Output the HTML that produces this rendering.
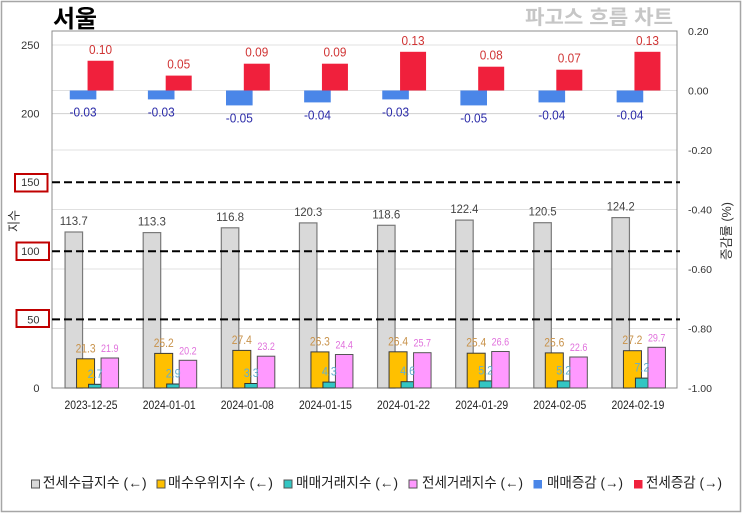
<!DOCTYPE html>
<html><head><meta charset="utf-8"><style>
html,body{margin:0;padding:0;background:#fff;}
svg{display:block;}
text{font-family:"Liberation Sans","Noto Sans CJK KR",sans-serif;}
.k{font-family:"Liberation Sans","Noto Sans CJK KR",sans-serif;}
</style></head><body>
<svg width="743" height="514" viewBox="0 0 743 514" xmlns="http://www.w3.org/2000/svg">
<rect x="0" y="0" width="743" height="514" fill="#fff"/>
<rect x="1.5" y="1.5" width="739" height="510" fill="none" stroke="#a6a6a6" stroke-width="1.5"/>

<!-- titles -->
<text x="53" y="27" font-size="24" font-weight="bold" fill="#000" textLength="44" lengthAdjust="spacingAndGlyphs">서울</text>
<text x="525" y="24" font-size="20" font-weight="bold" fill="#c6c6c6" textLength="148" lengthAdjust="spacingAndGlyphs">파고스 흐름 차트</text>

<!-- gridlines -->
<g stroke="#e0e0e0" stroke-width="1">
<line x1="52" y1="45" x2="677" y2="45"/>
<line x1="52" y1="90.5" x2="677" y2="90.5"/>
<line x1="52" y1="113.6" x2="677" y2="113.6" stroke="#d0d0d0"/>
<line x1="52" y1="150" x2="677" y2="150"/>
<line x1="52" y1="209.5" x2="677" y2="209.5"/>
<line x1="52" y1="269" x2="677" y2="269"/>
<line x1="52" y1="328.5" x2="677" y2="328.5"/>
</g>

<!-- plot frame -->
<rect x="52" y="31" width="625" height="357" fill="none" stroke="#8c8c8c" stroke-width="1"/>

<!-- gray bars -->
<g fill="#d9d9d9" stroke="#7a7a7a" stroke-width="1.2">
<rect x="65.06" y="232.0" width="17.5" height="156.0"/>
<rect x="143.19" y="232.6" width="17.5" height="155.4"/>
<rect x="221.31" y="227.8" width="17.5" height="160.2"/>
<rect x="299.44" y="222.9" width="17.5" height="165.1"/>
<rect x="377.56" y="225.3" width="17.5" height="162.7"/>
<rect x="455.69" y="220.1" width="17.5" height="167.9"/>
<rect x="533.81" y="222.7" width="17.5" height="165.3"/>
<rect x="611.94" y="217.6" width="17.5" height="170.4"/>
</g>
<!-- yellow bars -->
<g fill="#ffc000" stroke="#3a3a3a" stroke-width="1">
<rect x="76.56" y="358.8" width="18" height="29.2"/>
<rect x="154.69" y="353.4" width="18" height="34.6"/>
<rect x="232.81" y="350.4" width="18" height="37.6"/>
<rect x="310.94" y="351.9" width="18" height="36.1"/>
<rect x="389.06" y="351.8" width="18" height="36.2"/>
<rect x="467.19" y="353.2" width="18" height="34.8"/>
<rect x="545.31" y="352.9" width="18" height="35.1"/>
<rect x="623.44" y="350.7" width="18" height="37.3"/>
</g>
<!-- teal bars -->
<g fill="#33c6c3" stroke="#333" stroke-width="1">
<rect x="88.56" y="384.3" width="18" height="3.7"/>
<rect x="166.69" y="384.0" width="18" height="4.0"/>
<rect x="244.81" y="383.5" width="18" height="4.5"/>
<rect x="322.94" y="382.1" width="18" height="5.9"/>
<rect x="401.06" y="381.7" width="18" height="6.3"/>
<rect x="479.19" y="380.9" width="18" height="7.1"/>
<rect x="557.31" y="380.9" width="18" height="7.1"/>
<rect x="635.44" y="378.1" width="18" height="9.9"/>
</g>
<!-- pink bars -->
<g fill="#ff99ff" stroke="#555" stroke-width="1">
<rect x="101.06" y="358.0" width="17.5" height="30.0"/>
<rect x="179.19" y="360.3" width="17.5" height="27.7"/>
<rect x="257.31" y="356.2" width="17.5" height="31.8"/>
<rect x="335.44" y="354.5" width="17.5" height="33.5"/>
<rect x="413.56" y="352.7" width="17.5" height="35.3"/>
<rect x="491.69" y="351.5" width="17.5" height="36.5"/>
<rect x="569.81" y="357.0" width="17.5" height="31.0"/>
<rect x="647.94" y="347.3" width="17.5" height="40.7"/>
</g>

<!-- blue bars -->
<g fill="#4a86e8">
<rect x="69.76" y="90.5" width="26.6" height="8.9"/>
<rect x="147.89" y="90.5" width="26.6" height="8.9"/>
<rect x="226.01" y="90.5" width="26.6" height="14.9"/>
<rect x="304.14" y="90.5" width="26.6" height="11.9"/>
<rect x="382.26" y="90.5" width="26.6" height="8.9"/>
<rect x="460.39" y="90.5" width="26.6" height="14.9"/>
<rect x="538.51" y="90.5" width="26.6" height="11.9"/>
<rect x="616.64" y="90.5" width="26.6" height="11.9"/>
</g>
<!-- red bars -->
<g fill="#f0203c">
<rect x="87.56" y="60.75" width="26" height="29.75"/>
<rect x="165.69" y="75.6" width="26" height="14.9"/>
<rect x="243.81" y="63.7" width="26" height="26.8"/>
<rect x="321.94" y="63.7" width="26" height="26.8"/>
<rect x="400.06" y="51.8" width="26" height="38.7"/>
<rect x="478.19" y="66.7" width="26" height="23.8"/>
<rect x="556.31" y="69.7" width="26" height="20.8"/>
<rect x="634.44" y="51.8" width="26" height="38.7"/>
</g>

<!-- dashed reference lines -->
<g stroke="#000" stroke-width="2" stroke-dasharray="8 4">
<line x1="52" y1="182.2" x2="680" y2="182.2"/>
<line x1="52" y1="251.2" x2="680" y2="251.2"/>
<line x1="52" y1="319.4" x2="680" y2="319.4"/>
</g>

<!-- red boxes on left axis -->
<g fill="#fff" stroke="#c00000" stroke-width="2">
<rect x="15" y="174" width="32.5" height="17.5"/>
<rect x="16.5" y="242.5" width="32.5" height="17.5"/>
<rect x="16.5" y="310" width="32.5" height="17"/>
</g>

<!-- left axis labels -->
<g font-size="11" fill="#333" text-anchor="end">
<text x="39.5" y="49">250</text>
<text x="39.5" y="117.6">200</text>
<text x="39.5" y="186.2">150</text>
<text x="39.5" y="255.2">100</text>
<text x="39.5" y="323.4">50</text>
<text x="39.5" y="392">0</text>
</g>
<!-- right axis labels -->
<g font-size="10.5" fill="#333">
<text x="688" y="35">0.20</text>
<text x="688" y="94.5">0.00</text>
<text x="688" y="154">-0.20</text>
<text x="688" y="213.3">-0.40</text>
<text x="688" y="272.8">-0.60</text>
<text x="688" y="332.3">-0.80</text>
<text x="688" y="391.8">-1.00</text>
</g>
<!-- axis titles -->
<text transform="translate(18.5,221) rotate(-90)" text-anchor="middle" font-size="13" fill="#333" textLength="22" lengthAdjust="spacingAndGlyphs">지수</text>
<text transform="translate(731,231) rotate(-90)" text-anchor="middle" font-size="13" fill="#333" textLength="58" lengthAdjust="spacingAndGlyphs">증감률 (%)</text>

<!-- x labels -->
<g font-size="12" fill="#222" text-anchor="middle">
<text x="91.06" y="409" textLength="53" lengthAdjust="spacingAndGlyphs">2023-12-25</text>
<text x="169.19" y="409" textLength="53" lengthAdjust="spacingAndGlyphs">2024-01-01</text>
<text x="247.31" y="409" textLength="53" lengthAdjust="spacingAndGlyphs">2024-01-08</text>
<text x="325.44" y="409" textLength="53" lengthAdjust="spacingAndGlyphs">2024-01-15</text>
<text x="403.56" y="409" textLength="53" lengthAdjust="spacingAndGlyphs">2024-01-22</text>
<text x="481.69" y="409" textLength="53" lengthAdjust="spacingAndGlyphs">2024-01-29</text>
<text x="559.81" y="409" textLength="53" lengthAdjust="spacingAndGlyphs">2024-02-05</text>
<text x="637.94" y="409" textLength="53" lengthAdjust="spacingAndGlyphs">2024-02-19</text>
</g>

<!-- gray labels -->
<g font-size="12" fill="#444" text-anchor="middle">
<text x="73.8" y="225.0" textLength="28" lengthAdjust="spacingAndGlyphs">113.7</text>
<text x="151.9" y="225.6" textLength="28" lengthAdjust="spacingAndGlyphs">113.3</text>
<text x="230.1" y="220.8" textLength="28" lengthAdjust="spacingAndGlyphs">116.8</text>
<text x="308.2" y="215.9" textLength="28" lengthAdjust="spacingAndGlyphs">120.3</text>
<text x="386.3" y="218.3" textLength="28" lengthAdjust="spacingAndGlyphs">118.6</text>
<text x="464.4" y="213.1" textLength="28" lengthAdjust="spacingAndGlyphs">122.4</text>
<text x="542.6" y="215.7" textLength="28" lengthAdjust="spacingAndGlyphs">120.5</text>
<text x="620.7" y="210.6" textLength="28" lengthAdjust="spacingAndGlyphs">124.2</text>
</g>
<!-- yellow labels -->
<g font-size="12" fill="#c8924a" text-anchor="middle">
<text x="85.6" y="352.3" textLength="20" lengthAdjust="spacingAndGlyphs">21.3</text>
<text x="163.7" y="346.9" textLength="20" lengthAdjust="spacingAndGlyphs">25.2</text>
<text x="241.8" y="343.9" textLength="20" lengthAdjust="spacingAndGlyphs">27.4</text>
<text x="319.9" y="345.4" textLength="20" lengthAdjust="spacingAndGlyphs">26.3</text>
<text x="398.1" y="345.3" textLength="20" lengthAdjust="spacingAndGlyphs">26.4</text>
<text x="476.2" y="346.7" textLength="20" lengthAdjust="spacingAndGlyphs">25.4</text>
<text x="554.3" y="346.4" textLength="20" lengthAdjust="spacingAndGlyphs">25.6</text>
<text x="632.4" y="344.2" textLength="20" lengthAdjust="spacingAndGlyphs">27.2</text>
</g>
<!-- teal labels -->
<g font-size="12" fill="#62aed0" text-anchor="middle">
<text x="95.1" y="377.8" textLength="15" lengthAdjust="spacingAndGlyphs">2.7</text>
<text x="173.2" y="377.5" textLength="15" lengthAdjust="spacingAndGlyphs">2.9</text>
<text x="251.3" y="377.0" textLength="15" lengthAdjust="spacingAndGlyphs">3.3</text>
<text x="329.4" y="375.6" textLength="15" lengthAdjust="spacingAndGlyphs">4.3</text>
<text x="407.6" y="375.2" textLength="15" lengthAdjust="spacingAndGlyphs">4.6</text>
<text x="485.7" y="374.4" textLength="15" lengthAdjust="spacingAndGlyphs">5.2</text>
<text x="563.8" y="374.4" textLength="15" lengthAdjust="spacingAndGlyphs">5.2</text>
<text x="641.9" y="371.6" textLength="15" lengthAdjust="spacingAndGlyphs">7.2</text>
</g>
<!-- pink labels -->
<g font-size="11" fill="#e070dc" text-anchor="middle">
<text x="109.8" y="352.0" textLength="17.5" lengthAdjust="spacingAndGlyphs">21.9</text>
<text x="187.9" y="354.3" textLength="17.5" lengthAdjust="spacingAndGlyphs">20.2</text>
<text x="266.1" y="350.2" textLength="17.5" lengthAdjust="spacingAndGlyphs">23.2</text>
<text x="344.2" y="348.5" textLength="17.5" lengthAdjust="spacingAndGlyphs">24.4</text>
<text x="422.3" y="346.7" textLength="17.5" lengthAdjust="spacingAndGlyphs">25.7</text>
<text x="500.4" y="345.5" textLength="17.5" lengthAdjust="spacingAndGlyphs">26.6</text>
<text x="578.6" y="351.0" textLength="17.5" lengthAdjust="spacingAndGlyphs">22.6</text>
<text x="656.7" y="341.3" textLength="17.5" lengthAdjust="spacingAndGlyphs">29.7</text>
</g>
<!-- blue labels -->
<g font-size="12.5" fill="#2a2aa8" text-anchor="middle">
<text x="83.06" y="116.4" textLength="27" lengthAdjust="spacingAndGlyphs">-0.03</text>
<text x="161.19" y="116.4" textLength="27" lengthAdjust="spacingAndGlyphs">-0.03</text>
<text x="239.31" y="122.4" textLength="27" lengthAdjust="spacingAndGlyphs">-0.05</text>
<text x="317.44" y="119.4" textLength="27" lengthAdjust="spacingAndGlyphs">-0.04</text>
<text x="395.56" y="116.4" textLength="27" lengthAdjust="spacingAndGlyphs">-0.03</text>
<text x="473.69" y="122.4" textLength="27" lengthAdjust="spacingAndGlyphs">-0.05</text>
<text x="551.81" y="119.4" textLength="27" lengthAdjust="spacingAndGlyphs">-0.04</text>
<text x="629.94" y="119.4" textLength="27" lengthAdjust="spacingAndGlyphs">-0.04</text>
</g>
<!-- red labels -->
<g font-size="12.5" fill="#d03434" text-anchor="middle">
<text x="100.56" y="53.75" textLength="23" lengthAdjust="spacingAndGlyphs">0.10</text>
<text x="178.69" y="68.6" textLength="23" lengthAdjust="spacingAndGlyphs">0.05</text>
<text x="256.81" y="56.7" textLength="23" lengthAdjust="spacingAndGlyphs">0.09</text>
<text x="334.94" y="56.7" textLength="23" lengthAdjust="spacingAndGlyphs">0.09</text>
<text x="413.06" y="44.8" textLength="23" lengthAdjust="spacingAndGlyphs">0.13</text>
<text x="491.19" y="59.7" textLength="23" lengthAdjust="spacingAndGlyphs">0.08</text>
<text x="569.31" y="62.7" textLength="23" lengthAdjust="spacingAndGlyphs">0.07</text>
<text x="647.44" y="44.8" textLength="23" lengthAdjust="spacingAndGlyphs">0.13</text>
</g>

<!-- legend -->
<g>
<rect x="31.5" y="480" width="8" height="8" fill="#d9d9d9" stroke="#555" stroke-width="1"/>
<text x="42.7" y="487.5" font-size="14" fill="#222" textLength="104" lengthAdjust="spacingAndGlyphs">전세수급지수 (←)</text>
<rect x="157" y="480" width="8" height="8" fill="#ffc000" stroke="#555" stroke-width="1"/>
<text x="168" y="487.5" font-size="14" fill="#222" textLength="105" lengthAdjust="spacingAndGlyphs">매수우위지수 (←)</text>
<rect x="284" y="480" width="8" height="8" fill="#33c6c3" stroke="#555" stroke-width="1"/>
<text x="296" y="487.5" font-size="14" fill="#222" textLength="102" lengthAdjust="spacingAndGlyphs">매매거래지수 (←)</text>
<rect x="409" y="480" width="8" height="8" fill="#ff99ff" stroke="#555" stroke-width="1"/>
<text x="422" y="487.5" font-size="14" fill="#222" textLength="101" lengthAdjust="spacingAndGlyphs">전세거래지수 (←)</text>
<rect x="533.5" y="480" width="8.5" height="8.5" fill="#4a86e8"/>
<text x="547" y="487.5" font-size="14" fill="#222" textLength="76" lengthAdjust="spacingAndGlyphs">매매증감 (→)</text>
<rect x="634" y="480" width="8.5" height="8.5" fill="#f0203c"/>
<text x="646" y="487.5" font-size="14" fill="#222" textLength="76" lengthAdjust="spacingAndGlyphs">전세증감 (→)</text>
</g>
</svg>
</body></html>
